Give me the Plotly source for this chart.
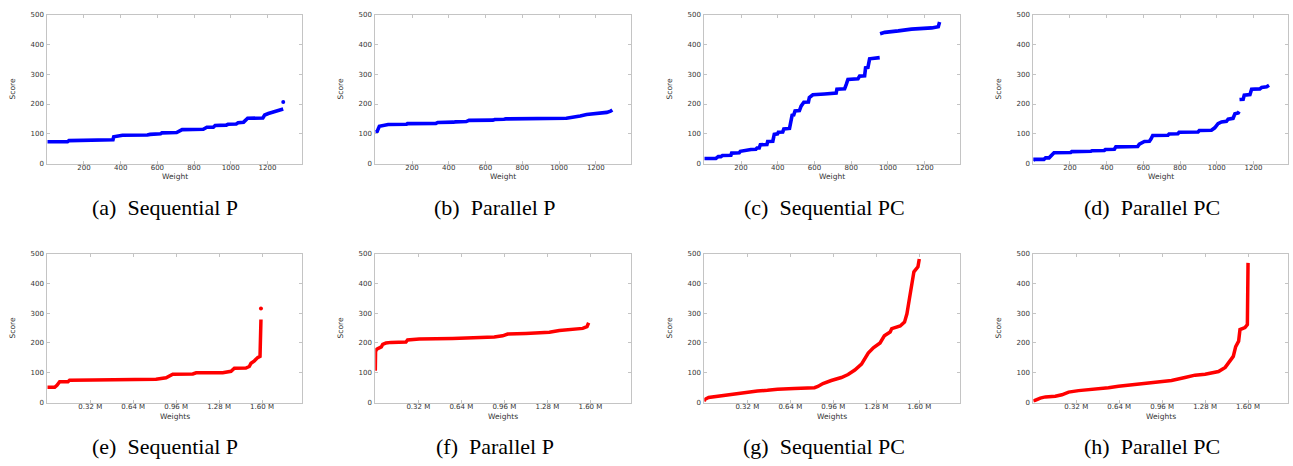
import plotly.graph_objects as go

W, H = 1293, 466

# ---------------- data ----------------
# top row: weight (index) vs score, blue
a_weight = [0, 110, 118, 335, 340, 358, 362, 400, 410, 545, 560, 618, 625, 705, 715, 735, 850, 860, 870, 905, 915, 975, 985, 1030, 1040, 1070, 1085, 1092, 1175, 1185, 1205, 1215, 1235, 1245, 1270, 1286]
a_score = [73, 73, 77, 77, 80, 80, 90, 92, 95, 96, 98, 100, 103, 104, 108, 114, 115, 118, 122, 122, 128, 129, 132, 133, 137, 139, 148, 152, 153, 163, 168, 170, 174, 176, 178, 183]
a_iso_weight = [1286]
a_iso_score = [207]

b_weight = [0, 10, 22, 60, 70, 170, 175, 330, 340, 425, 435, 495, 510, 640, 650, 700, 710, 1040, 1080, 1115, 1150, 1190, 1235, 1260, 1280, 1290]
b_score = [107, 108, 125, 128, 131, 132, 134, 135, 138, 139, 140, 141, 145, 146, 148, 149, 150, 152, 155, 160, 165, 167, 169, 172, 176, 180]
b_iso_weight = []
b_iso_score = []

c_weight = [0, 63, 76, 90, 99, 145, 149, 190, 196, 217, 254, 281, 287, 299, 305, 341, 345, 373, 381, 399, 403, 427, 433, 464, 472, 478, 487, 494, 518, 527, 542, 567, 572, 591, 655, 718, 722, 764, 773, 782, 837, 846, 873, 878, 891, 900, 955,
            None, 957, 983, 1056, 1128, 1238, 1274, 1281]
c_score = [17, 17, 23, 23, 27, 28, 35, 36, 41, 44, 47, 48, 52, 52, 63, 64, 74, 75, 98, 100, 105, 106, 116, 118, 140, 162, 163, 177, 178, 193, 206, 207, 222, 231, 234, 237, 250, 251, 266, 283, 285, 294, 295, 322, 323, 352, 356,
           None, 436, 441, 446, 452, 456, 460, 476]
c_iso_weight = []
c_iso_score = []

d_weight = [0, 4, 58, 67, 86, 99, 113, 204, 210, 314, 320, 387, 393, 442, 450, 569, 578, 606, 633, 642, 651, 734, 740, 788, 795, 898, 905, 971, 989, 1007, 1026, 1053, 1062, 1089, 1099, 1117, 1122,
            None, 1124, 1144, 1150, 1181, 1190, 1235, 1245, 1272, 1285]
d_score = [8, 14, 14, 19, 19, 28, 36, 37, 40, 41, 43, 44, 47, 48, 56, 57, 65, 74, 75, 83, 94, 95, 99, 100, 105, 106, 111, 112, 120, 134, 140, 142, 149, 152, 167, 170, 175,
           None, 215, 216, 230, 232, 250, 251, 256, 258, 263]
d_iso_weight = []
d_iso_score = []

# bottom row: weights (millions) vs score, red
e_weight = [0, 0.055, 0.072, 0.092, 0.154, 0.166, 0.34, 0.637, 0.81, 0.885, 0.91, 0.935, 1.084, 1.109, 1.307, 1.369, 1.394, 1.48, 1.505, 1.518, 1.543, 1.567, 1.585, 1.59, 1.592]
e_score = [51, 51, 58, 70, 70, 75, 76, 77, 78, 83, 89, 95, 96, 100, 100, 105, 115, 116, 121, 132, 140, 151, 155, 215, 279]
e_iso_weight = [1.592]
e_iso_score = [316]

f_weight = [0, 0.002, 0.01, 0.03, 0.045, 0.055, 0.08, 0.117, 0.228, 0.24, 0.327, 0.575, 0.823, 0.885, 0.947, 0.985, 1.12, 1.295, 1.369, 1.468, 1.543, 1.575, 1.587]
f_score = [107, 171, 179, 183, 187, 195, 200, 202, 203, 210, 213, 215, 217, 220, 224, 230, 232, 236, 242, 247, 249, 255, 268]
f_iso_weight = []
f_iso_score = []

g_weight = [0, 0.002, 0.032, 0.083, 0.145, 0.22, 0.295, 0.395, 0.47, 0.545, 0.67, 0.82, 0.845, 0.883, 0.945, 1.02, 1.07, 1.12, 1.17, 1.22, 1.258, 1.308, 1.34, 1.383, 1.395, 1.458, 1.49, 1.508, 1.528, 1.545, 1.56, 1.59, 1.598, 1.6]
g_score = [3, 10, 17, 20, 25, 31, 35, 39, 41, 45, 47, 50, 54, 64, 74, 84, 94, 109, 129, 166, 184, 200, 224, 237, 248, 257, 270, 298, 353, 403, 439, 456, 469, 482]
g_iso_weight = []
g_iso_score = []

h_weight = [0, 0.02, 0.052, 0.09, 0.164, 0.213, 0.263, 0.337, 0.437, 0.56, 0.635, 0.734, 0.833, 0.93, 1.03, 1.13, 1.205, 1.28, 1.33, 1.38, 1.43, 1.466, 1.49, 1.508, 1.53, 1.54, 1.577, 1.595, 1.6]
h_score = [5, 10, 15, 19, 21, 26, 35, 40, 44, 50, 55, 60, 64, 70, 74, 84, 92, 95, 99, 104, 118, 138, 155, 188, 206, 245, 252, 262, 469]
h_iso_weight = []
h_iso_score = []

captions = ["(a)\u2002Sequential P", "(b)\u2002Parallel P", "(c)\u2002Sequential PC", "(d)\u2002Parallel PC",
            "(e)\u2002Sequential P", "(f)\u2002Parallel P", "(g)\u2002Sequential PC", "(h)\u2002Parallel PC"]

top_ticks = [200, 400, 600, 800, 1000, 1200]
bottom_ticks = [0.32, 0.64, 0.96, 1.28, 1.60]
bottom_ticktext = ["0.32 M", "0.64 M", "0.96 M", "1.28 M", "1.60 M"]
y_ticks = [0, 100, 200, 300, 400, 500]

panels = [
    (a_weight, a_score, a_iso_weight, a_iso_score),
    (b_weight, b_score, b_iso_weight, b_iso_score),
    (c_weight, c_score, c_iso_weight, c_iso_score),
    (d_weight, d_score, d_iso_weight, d_iso_score),
    (e_weight, e_score, e_iso_weight, e_iso_score),
    (f_weight, f_score, f_iso_weight, f_iso_score),
    (g_weight, g_score, g_iso_weight, g_iso_score),
    (h_weight, h_score, h_iso_weight, h_iso_score),
]

# ---------------- layout geometry (pixels) ----------------
col_px = [(47.3, 302.3), (375.3, 630.7), (704.3, 959.6), (1033.3, 1288.3)]
row_px = [(11.0, 162.3), (254.0, 405.5)]
caption_cx = [165, 495, 824, 1152]
caption_cy = [207, 450]

def px_x(v):
    return v / W

def px_y(v):
    return 1 - v / H

fig = go.Figure()
layout = dict(
    width=W, height=H,
    margin=dict(l=0, r=0, t=0, b=0),
    paper_bgcolor="white", plot_bgcolor="white",
    showlegend=False,
)
annotations = []
frame_col = "#c4c4c4"
tick_font = dict(family="DejaVu Sans", size=7, color="#333333")
title_font = dict(family="DejaVu Sans", size=7.5, color="#333333")

for i, (xw, ys, xi, yi) in enumerate(panels):
    r, c = divmod(i, 4)
    n = i + 1
    xa = "x" if n == 1 else f"x{n}"
    ya = "y" if n == 1 else f"y{n}"
    color = "#0000ff" if r == 0 else "#ff0000"
    width = 3.6 if r == 0 else 3.5
    fig.add_trace(go.Scatter(x=xw, y=ys, mode="lines", xaxis=xa, yaxis=ya,
                             line=dict(color=color, width=width), connectgaps=False,
                             hoverinfo="skip"))
    if xi:
        fig.add_trace(go.Scatter(x=xi, y=yi, mode="markers", xaxis=xa, yaxis=ya,
                                 marker=dict(color=color, size=4), hoverinfo="skip"))
    x0, x1 = col_px[c]
    y0, y1 = row_px[r]
    xkey = "xaxis" if n == 1 else f"xaxis{n}"
    ykey = "yaxis" if n == 1 else f"yaxis{n}"
    if r == 0:
        xdict = dict(range=[0, 1390], tickvals=top_ticks)
    else:
        xdict = dict(range=[0, 1.9], tickvals=bottom_ticks, ticktext=bottom_ticktext)
    xdict.update(domain=[px_x(x0), px_x(x1)], anchor=ya,
                 showline=True, linecolor=frame_col, linewidth=1, mirror="ticks",
                 ticks="inside", ticklen=3, tickcolor=frame_col, tickwidth=1,
                 showgrid=False, zeroline=False, tickfont=tick_font, ticklabelstandoff=-3)
    ydict = dict(range=[0, 500], tickvals=y_ticks, domain=[px_y(y1), px_y(y0)], anchor=xa,
                 showline=True, linecolor=frame_col, linewidth=1, mirror="ticks",
                 ticks="inside", ticklen=3, tickcolor=frame_col, tickwidth=1,
                 showgrid=False, zeroline=False, tickfont=tick_font, ticklabelstandoff=1)
    layout[xkey] = xdict
    layout[ykey] = ydict
    # axis titles
    annotations.append(dict(text="Score", textangle=-90, xref="paper", yref="paper",
                            x=px_x(x0 - 35), y=px_y((y0 + y1) / 2), showarrow=False,
                            font=title_font, xanchor="center", yanchor="middle"))
    annotations.append(dict(text="Weight" if r == 0 else "Weights", xref="paper", yref="paper",
                            x=px_x((x0 + x1) / 2), y=px_y(y1 + (13.2 if r == 0 else 14.5)),
                            showarrow=False, font=title_font, xanchor="center", yanchor="middle"))
    annotations.append(dict(text=captions[i], xref="paper", yref="paper",
                            x=px_x(caption_cx[c]), y=px_y(caption_cy[r]), showarrow=False,
                            font=dict(family="Liberation Serif", size=22, color="black"),
                            xanchor="center", yanchor="middle"))

layout["annotations"] = annotations
fig.update_layout(**layout)
fig.write_html("out.html", config={"displayModeBar": False},
               post_script="document.body.style.margin='0px';document.body.style.overflow='hidden';")
